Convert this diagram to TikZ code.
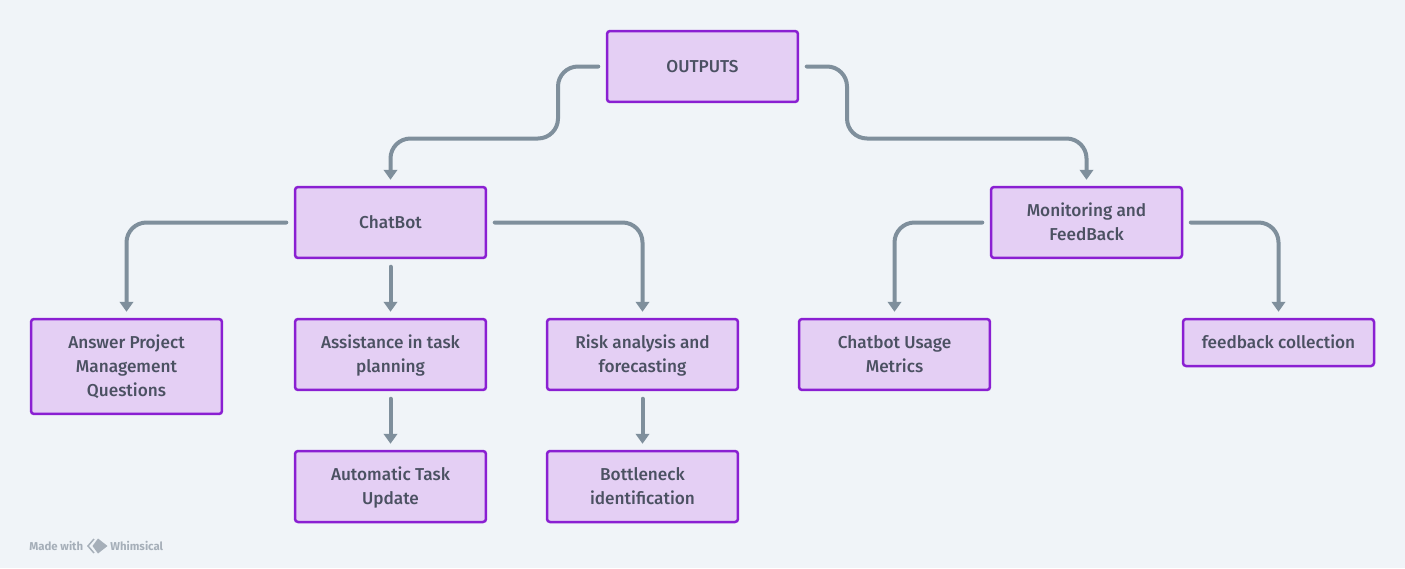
\documentclass[tikz,border=0pt]{standalone}
\usepackage{fontspec}
\setmainfont{Fira Sans Medium}[BoldFont={Fira Sans Bold}]
\usetikzlibrary{arrows.meta}
\definecolor{pagebg}{HTML}{F0F4F8}
\definecolor{boxfill}{HTML}{E4CFF4}
\definecolor{boxline}{HTML}{8A1FD2}
\definecolor{boxtext}{HTML}{4B5162}
\definecolor{linkgrey}{HTML}{7F8F9C}
\definecolor{markgrey}{HTML}{A6AFB9}
\newcommand{\capstrut}{\rule{0pt}{9.7pt}}
\tikzset{
  card/.style={draw=boxline,fill=boxfill,line width=0.05cm,rounded corners=0.06cm,
    minimum width=3.82cm,minimum height=1.42cm,inner sep=0pt,align=center,
    text=boxtext,font=\fontsize{9.8}{13.6}\selectfont,
    execute at end node={\rule[-3pt]{0pt}{3pt}}},
  link/.style={draw=linkgrey,line width=0.08cm,rounded corners=0.4cm,line cap=round,
    shorten <=0.15cm,shorten >=0.12cm},
  linkhead/.style={link,-{Triangle[width=0.27cm,length=0.2cm]}},
  madewith/.style={text=markgrey,font=\fontsize{6.5}{6.5}\selectfont\bfseries,inner sep=0pt}
}
\begin{document}
\begin{tikzpicture}[x=0.02cm,y=-0.02cm]
    \fill[pagebg] (0,0) rectangle (1405,568);
    \useasboundingbox (0,0) rectangle (1405,568);
    % top row
    \node[card] (outputs) at (702.5,66.5) {\capstrut OUTPUTS};
    \node[card] (chatbot) at (390.5,222.5) {\capstrut ChatBot};
    \node[card] (monitor) at (1086.5,222.5) {\capstrut Monitoring and\\FeedBack};
    % middle row
    \node[card,minimum height=1.9cm] (answer) at (126.5,366.5) {\capstrut Answer Project\\Management\\Questions};
    \node[card] (assist) at (390.5,354.5) {\capstrut Assistance in task\\planning};
    \node[card] (risk) at (642.5,354.5) {\capstrut Risk analysis and\\forecasting};
    \node[card] (usage) at (894.5,354.5) {\capstrut Chatbot Usage\\Metrics};
    \node[card,minimum height=0.94cm] (collect) at (1278.5,342.5) {\capstrut feedback collection};
    % bottom row
    \node[card] (autotask) at (390.5,486.5) {\capstrut Automatic Task\\Update};
    \node[card] (bottleneck) at (642.5,486.5) {\capstrut Bottleneck\\identification};
    % bends under the top box
    \coordinate (busleft) at (558,138.5);
    \coordinate (busright) at (847,138.5);
    \draw[linkhead] (outputs.west) -| (busleft) -| (chatbot.north);
    \draw[linkhead] (outputs.east) -| (busright) -| (monitor.north);
    \draw[linkhead] (chatbot.west) -| (answer.north);
    \draw[linkhead] (chatbot.south) -- (assist.north);
    \draw[linkhead] (chatbot.east) -| (risk.north);
    \draw[linkhead] (assist.south) -- (autotask.north);
    \draw[linkhead] (risk.south) -- (bottleneck.north);
    \draw[linkhead] (monitor.west) -| (usage.north);
    \draw[linkhead] (monitor.east) -| (collect.north);
    % watermark
    \node[madewith,anchor=west] (madetext) at (29,546) {Made with};
    \node[madewith,anchor=west] (whimtext) at (110,546) {Whimsical};
    \fill[markgrey] (98,538.5) -- (107.5,546) -- (98,553.5) -- (92.5,546) -- cycle;
    \draw[markgrey,line width=0.03cm] (94,539) -- (88,546) -- (94,553);
\end{tikzpicture}
\end{document}
